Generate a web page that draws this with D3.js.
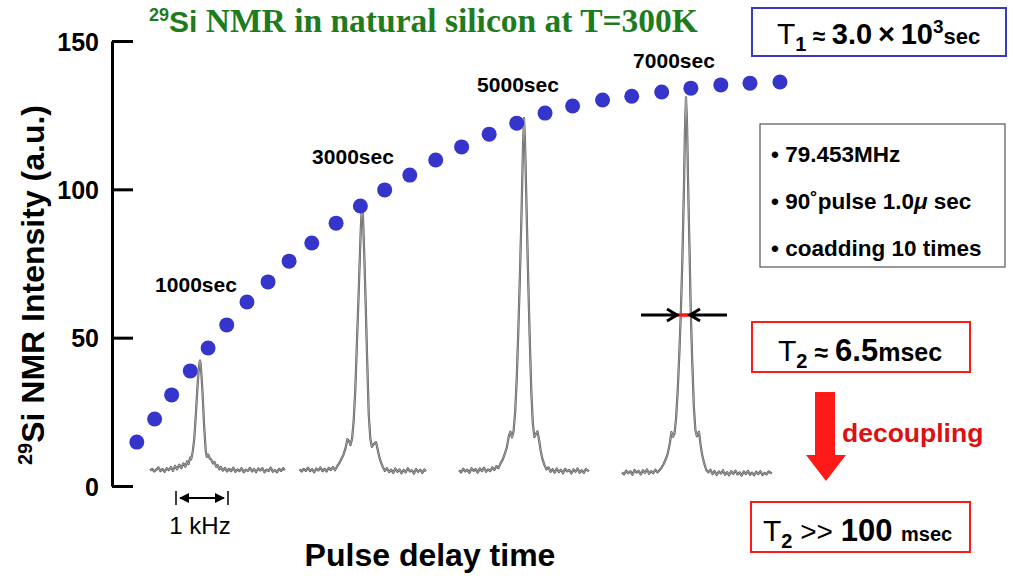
<!DOCTYPE html>
<html><head><meta charset="utf-8">
<script src="https://cdn.jsdelivr.net/npm/d3@7"></script>
<style>
body{margin:0;background:#fff;}
svg{display:block;}
text{font-family:"Liberation Sans",Arial,sans-serif;}
</style></head><body>
<svg id="c" width="1013" height="576"></svg>
<script>
// ---------- data ----------
const delayTimes = [220,440,650,880,1100,1330,1580,1840,2100,2380,2680,2980,3280,3590,3910,4230,4570,4910,5260,5600,5970,6330,6700,7060,7430,7790,8160];
const intensities = [14.8,22.6,30.7,38.8,46.5,54.3,62.0,68.8,75.8,81.9,88.6,94.4,99.8,104.8,109.9,114.3,118.6,122.3,125.7,128.1,130.1,131.4,132.8,134.1,135.2,135.8,136.2];
const yTicks = [0,50,100,150];
const spectrumDelays = [1000,3000,5000,7000];
const spectrumLabels = ["1000sec","3000sec","5000sec","7000sec"];
// spectra: [frequency offset (kHz), intensity (a.u.)]
const spectrum1000 = [[-0.96,5.2],[-0.92,5.8],[-0.88,4.9],[-0.84,5.5],[-0.80,6.3],[-0.76,5.0],[-0.72,5.7],[-0.68,4.8],[-0.64,6.0],[-0.60,5.3],[-0.56,6.4],[-0.52,5.1],[-0.48,6.8],[-0.44,5.6],[-0.40,7.2],[-0.36,6.0],[-0.32,7.6],[-0.28,6.5],[-0.25,8.3],[-0.22,7.4],[-0.19,9.6],[-0.17,9.0],[-0.14,11.5],[-0.11,16],[-0.08,24],[-0.05,33],[-0.03,38],[-0.01,41.5],[0.00,42.3],[0.01,41.5],[0.03,37],[0.05,31],[0.08,20],[0.11,12],[0.13,9.8],[0.16,10.6],[0.19,9.2],[0.22,8.8],[0.25,7.6],[0.28,8.1],[0.31,6.5],[0.34,7.0],[0.37,5.6],[0.40,6.4],[0.44,5.2],[0.48,6.1],[0.52,4.9],[0.56,5.8],[0.60,5.0],[0.64,6.2],[0.68,4.8],[0.72,5.6],[0.76,5.0],[0.80,6.0],[0.84,4.6],[0.88,5.5],[0.92,5.1],[0.96,6.1],[1.00,4.9],[1.04,5.7],[1.08,4.7],[1.12,5.9],[1.16,5.2],[1.20,6.0],[1.24,4.6],[1.28,5.5],[1.32,5.0],[1.36,6.2],[1.40,4.8],[1.44,5.4],[1.48,4.6],[1.52,5.8],[1.56,5.1],[1.60,6.0],[1.63,5.3]];
const spectrum3000 = [[-1.20,5.6],[-1.16,4.9],[-1.12,5.8],[-1.08,5.1],[-1.04,6.2],[-1.00,5.0],[-0.96,5.7],[-0.92,4.6],[-0.88,5.9],[-0.84,5.2],[-0.80,6.3],[-0.76,5.0],[-0.72,5.8],[-0.68,4.9],[-0.64,6.1],[-0.60,5.4],[-0.56,6.4],[-0.52,5.3],[-0.48,6.6],[-0.44,7.6],[-0.40,9.0],[-0.36,10.4],[-0.32,12.5],[-0.28,15.8],[-0.25,15.2],[-0.22,13.8],[-0.19,16],[-0.16,22],[-0.13,32],[-0.10,47],[-0.07,62],[-0.04,78],[-0.02,88],[0.00,94.5],[0.02,90],[0.04,80],[0.07,62],[0.10,42],[0.13,24],[0.16,16],[0.19,13.2],[0.23,14.2],[0.27,14.8],[0.30,12.4],[0.33,10.0],[0.36,8.2],[0.40,6.4],[0.44,5.1],[0.48,6.0],[0.52,4.7],[0.56,5.5],[0.60,4.4],[0.64,5.9],[0.68,4.8],[0.72,5.6],[0.76,4.3],[0.80,5.4],[0.84,4.6],[0.88,6.0],[0.92,4.9],[0.96,5.3],[1.00,4.2],[1.04,5.7],[1.08,4.8],[1.12,5.5],[1.16,4.4],[1.20,5.6],[1.23,5.0]];
const spectrum5000 = [[-1.25,5.3],[-1.21,4.6],[-1.17,5.8],[-1.13,4.9],[-1.09,5.5],[-1.05,4.4],[-1.01,6.0],[-0.97,5.1],[-0.93,5.7],[-0.89,4.5],[-0.85,5.9],[-0.81,5.0],[-0.77,6.2],[-0.73,4.8],[-0.69,5.6],[-0.65,5.0],[-0.61,6.3],[-0.57,5.4],[-0.53,6.7],[-0.49,6.0],[-0.45,7.7],[-0.41,8.9],[-0.37,10.8],[-0.33,13.0],[-0.29,17.0],[-0.26,18.3],[-0.23,16.4],[-0.20,18.5],[-0.17,25],[-0.14,36],[-0.11,52],[-0.08,70],[-0.05,90],[-0.02,114],[0.00,124],[0.02,116],[0.05,93],[0.08,70],[0.11,50],[0.14,32],[0.17,21],[0.20,16.5],[0.23,17.6],[0.26,18.4],[0.29,15.5],[0.32,12.0],[0.35,9.4],[0.39,7.2],[0.43,5.6],[0.47,6.3],[0.51,4.8],[0.55,5.7],[0.59,4.5],[0.63,5.9],[0.67,4.7],[0.71,5.5],[0.75,4.3],[0.79,5.8],[0.83,4.9],[0.87,5.4],[0.91,4.2],[0.95,5.6],[0.99,4.8],[1.03,5.9],[1.07,4.5],[1.11,5.3],[1.15,4.4],[1.19,5.7],[1.25,4.9]];
const spectrum7000 = [[-1.23,4.6],[-1.19,3.9],[-1.15,5.2],[-1.11,4.3],[-1.07,5.0],[-1.03,3.8],[-0.99,5.4],[-0.95,4.5],[-0.91,5.1],[-0.87,3.9],[-0.83,5.3],[-0.79,4.4],[-0.75,5.6],[-0.71,4.1],[-0.67,5.0],[-0.63,4.3],[-0.59,5.5],[-0.55,4.6],[-0.51,5.3],[-0.47,6.2],[-0.43,7.4],[-0.39,9.0],[-0.35,11.0],[-0.31,14.5],[-0.28,18.2],[-0.25,16.6],[-0.22,17.8],[-0.19,23],[-0.16,32],[-0.13,44],[-0.10,58],[-0.07,76],[-0.04,100],[-0.02,120],[0.00,131],[0.02,122],[0.04,102],[0.07,78],[0.09,60],[0.12,42],[0.15,27],[0.18,19],[0.21,16.8],[0.25,18.2],[0.28,14.0],[0.31,10.5],[0.35,7.6],[0.39,5.4],[0.43,4.6],[0.47,5.5],[0.51,4.0],[0.55,5.1],[0.59,3.7],[0.63,4.9],[0.67,4.2],[0.71,5.3],[0.75,3.8],[0.79,4.7],[0.83,3.6],[0.87,5.0],[0.91,4.1],[0.95,5.2],[0.99,3.9],[1.03,4.6],[1.07,3.5],[1.11,4.9],[1.15,4.0],[1.19,5.1],[1.23,3.8],[1.27,4.5],[1.31,3.6],[1.35,4.8],[1.39,4.0],[1.43,5.0],[1.47,3.7],[1.51,4.4],[1.55,3.9],[1.59,4.9],[1.65,4.2]];
const spectra = [spectrum1000, spectrum3000, spectrum5000, spectrum7000];
const infoLines = ["79.453MHz", "90˚pulse 1.0", "coadding 10 times"];

// ---------- layout ----------
const svg = d3.select("#c");
const x = d3.scaleLinear().domain([1000, 7000]).range([200, 686]);
const y = d3.scaleLinear().domain([0, 150]).range([486, 41]);
const fx = d3.scaleLinear().domain([0, 1]).range([0, 52]); // kHz -> px
const SANS = '"Liberation Sans", Arial, sans-serif';
const SERIF = '"Liberation Serif", "Times New Roman", serif';

// y axis
const gy = svg.append("g").attr("transform", "translate(112,0)")
  .call(d3.axisLeft(y).tickValues(yTicks).tickSizeInner(-21).tickSizeOuter(0).tickPadding(13));
gy.select(".domain").attr("stroke", "#000").attr("stroke-width", 3);
gy.selectAll(".tick line").attr("stroke", "#000").attr("stroke-width", 3);
gy.selectAll(".tick text").attr("font-family", SANS).attr("font-size", 25).attr("font-weight", "bold").attr("fill", "#000").attr("dy", "0.36em");

// y title
const yt = svg.append("text").attr("transform", "translate(44,285) rotate(-90)")
  .attr("text-anchor", "middle").attr("font-size", 32).attr("font-weight", "bold").attr("fill", "#000");
yt.append("tspan").text("29").attr("font-size", 20).attr("dy", -12);
yt.append("tspan").text("Si NMR Intensity (a.u.)").attr("dy", 12);

// x title
svg.append("text").attr("x", 430).attr("y", 566).attr("text-anchor", "middle")
  .attr("font-size", 32).attr("font-weight", "bold").attr("fill", "#000").text("Pulse delay time");

// title
const tt = svg.append("text").attr("x", 149).attr("y", 32).attr("fill", "#1e7b1e").attr("font-weight", "bold");
tt.append("tspan").text("29").attr("font-family", SANS).attr("font-size", 18).attr("dy", -11);
tt.append("tspan").text("Si").attr("font-family", SANS).attr("font-size", 30).attr("dy", 11);
tt.append("tspan").text(" NMR in natural silicon at T=300K").attr("font-family", SERIF).attr("font-size", 33.5);

// spectra
const line = d3.line().x(d => d[0]).y(d => d[1]);
spectra.forEach((s, i) => {
  const cx = x(spectrumDelays[i]);
  const pts = s.map(d => [cx + fx(d[0]), y(d[1])]);
  svg.append("path").attr("d", line(pts)).attr("fill", "none").attr("stroke", "#5c5c5c").attr("stroke-width", 2.2).attr("stroke-linejoin", "round");
  svg.append("path").attr("d", line(pts)).attr("fill", "none").attr("stroke", "#d0d0d0").attr("stroke-width", 0.6).attr("stroke-linejoin", "round");
});

// dots
svg.append("g").selectAll("circle").data(delayTimes).join("circle")
  .attr("cx", d => x(d)).attr("cy", (d, i) => y(intensities[i])).attr("r", 7.5).attr("fill", "#3535cc");

// spectrum labels
const labelDX = [-4, -9, -6, -12];
const labelY = [292, 164, 92, 68];
spectrumLabels.forEach((t, i) => {
  svg.append("text").attr("x", x(spectrumDelays[i]) + labelDX[i]).attr("y", labelY[i]).attr("text-anchor", "middle")
    .attr("font-size", 21).attr("font-weight", "bold").attr("fill", "#000").text(t);
});

// 1 kHz scale bar
const bx0 = x(1000) - 24, bx1 = bx0 + fx(1), by = 498;
svg.append("path").attr("d", `M${bx0},${by-7}V${by+7}M${bx1},${by-7}V${by+7}`).attr("stroke", "#000").attr("stroke-width", 1.5);
svg.append("path").attr("d", `M${bx0+4},${by}H${bx1-4}`).attr("stroke", "#000").attr("stroke-width", 2.2);
svg.append("path").attr("d", `M${bx0+3},${by}l10,-5v10zM${bx1-3},${by}l-10,-5v10z`).attr("fill", "#000");
svg.append("text").attr("x", (bx0 + bx1) / 2 - 2).attr("y", 534).attr("text-anchor", "middle")
  .attr("font-size", 24).attr("fill", "#000").text("1 kHz");

// linewidth arrows on 7000 sec peak
const ay = 315, ax0 = 677, ax1 = 690;
svg.append("path").attr("d", `M${ax0},${ay}H${ax1}`).attr("stroke", "#ff1a1a").attr("stroke-width", 3.5);
svg.append("path").attr("d", `M641,${ay}H${ax0-1}M${ax0-10},${ay-6}L${ax0},${ay}L${ax0-10},${ay+6}`)
  .attr("fill", "none").attr("stroke", "#000").attr("stroke-width", 3).attr("stroke-linejoin", "miter");
svg.append("path").attr("d", `M727,${ay}H${ax1+1}M${ax1+10},${ay-6}L${ax1},${ay}L${ax1+10},${ay+6}`)
  .attr("fill", "none").attr("stroke", "#000").attr("stroke-width", 3).attr("stroke-linejoin", "miter");

// T1 box
svg.append("rect").attr("x", 752).attr("y", 8).attr("width", 254).attr("height", 48)
  .attr("fill", "#fff").attr("stroke", "#3a3ac0").attr("stroke-width", 2);
const t1 = svg.append("text").attr("x", 777).attr("y", 44).attr("fill", "#000").attr("font-weight", "bold");
t1.append("tspan").text("T").attr("font-size", 30).attr("font-weight", "normal");
t1.append("tspan").text("1").attr("font-size", 20).attr("dy", 7);
t1.append("tspan").text(" \u2248 ").attr("font-size", 23).attr("dy", -7);
t1.append("tspan").text("3.0\u2009\u00d7\u200910").attr("font-size", 29);
t1.append("tspan").text("3").attr("font-size", 19).attr("dy", -11);
t1.append("tspan").text("sec").attr("font-size", 22).attr("dy", 11);

// info box
svg.append("rect").attr("x", 760).attr("y", 124).attr("width", 245).attr("height", 143)
  .attr("fill", "#fff").attr("stroke", "#555").attr("stroke-width", 1.2);
infoLines.forEach((t, i) => {
  const tx = svg.append("text").attr("x", 771).attr("y", 162 + i * 47).attr("font-size", 22.5).attr("font-weight", "bold").attr("fill", "#000");
  tx.append("tspan").text("\u2022 " + t);
  if (i === 1) {
    tx.append("tspan").text("\u03bc").attr("font-style", "italic");
    tx.append("tspan").text(" sec");
  }
});

// T2 box 1
svg.append("rect").attr("x", 752).attr("y", 322).attr("width", 218).attr("height", 50)
  .attr("fill", "#fff").attr("stroke", "#ff1a1a").attr("stroke-width", 2);
const t2a = svg.append("text").attr("x", 778).attr("y", 361).attr("fill", "#000").attr("font-weight", "bold");
t2a.append("tspan").text("T").attr("font-size", 30).attr("font-weight", "normal");
t2a.append("tspan").text("2").attr("font-size", 20).attr("dy", 7);
t2a.append("tspan").text(" \u2248 ").attr("font-size", 25).attr("dy", -7);
t2a.append("tspan").text("6.5").attr("font-size", 31);
t2a.append("tspan").text("msec").attr("font-size", 25);

// decoupling arrow
svg.append("path").attr("d", "M815,392H835V455H846L826,481L806,455H815Z").attr("fill", "#ff1a1a");
svg.append("text").attr("x", 842).attr("y", 442).attr("font-size", 26.5).attr("font-weight", "bold").attr("fill", "#dd1111").text("decoupling");

// T2 box 2
svg.append("rect").attr("x", 751).attr("y", 502).attr("width", 219).attr("height", 50)
  .attr("fill", "#fff").attr("stroke", "#ff1a1a").attr("stroke-width", 2);
const t2b = svg.append("text").attr("x", 763).attr("y", 541).attr("fill", "#000");
t2b.append("tspan").text("T").attr("font-size", 30);
t2b.append("tspan").text("2").attr("font-size", 20).attr("font-weight", "bold").attr("dy", 7);
t2b.append("tspan").text(" >> ").attr("font-size", 28).attr("dy", -7);
t2b.append("tspan").text("100 ").attr("font-size", 31).attr("font-weight", "bold");
t2b.append("tspan").text("msec").attr("font-size", 20).attr("font-weight", "bold");
</script></body></html>
